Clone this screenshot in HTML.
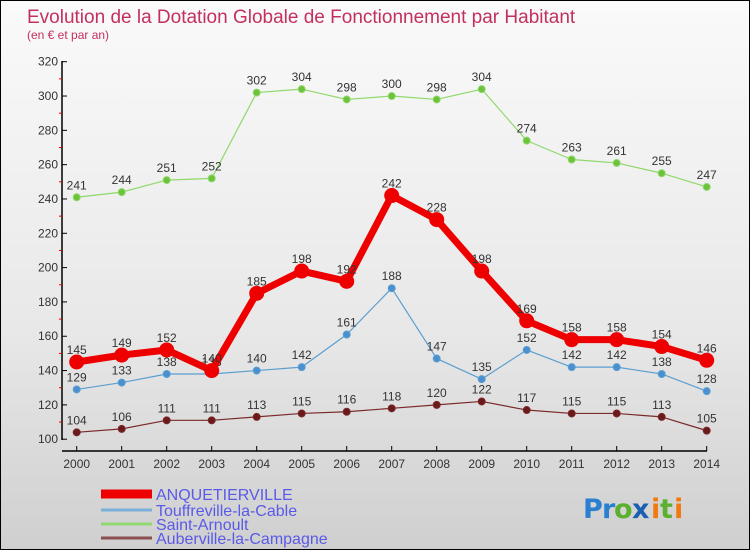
<!DOCTYPE html>
<html><head><meta charset="utf-8"><style>
html,body{margin:0;padding:0}
#c{width:748px;height:548px;border:1px solid #000;background:linear-gradient(#fafafa,#e8e8e8 60%,#cfcfcf);position:relative;overflow:hidden;font-family:"Liberation Sans",sans-serif}
svg{position:absolute;left:0;top:0}
</style></head><body>
<div id="c">
<svg id="s" width="750" height="550">
<text x="26" y="22" font-size="19" fill="#c4305e">Evolution de la Dotation Globale de Fonctionnement par Habitant</text>
<text x="26" y="38" font-size="12" fill="#c4305e">(en € et par an)</text>
<g font-size="27" font-weight="bold" font-family="'DejaVu Sans',sans-serif">
<text x="582" y="517" fill="#2a7fd0">P</text><text x="601" y="517" fill="#2a7fd0">r</text><text x="613" y="517" fill="#5cb030">o</text><text x="631" y="517" fill="#1b5fb0">x</text><text x="650" y="517" fill="#f07a10">i</text><text x="659" y="517" fill="#5cb030">t</text><text x="673" y="517" fill="#f07a10">i</text>
</g>
</svg>
</div>
<script>
const years=["2000","2001","2002","2003","2004","2005","2006","2007","2008","2009","2010","2011","2012","2013","2014"];
const yTicks=[100,120,140,160,180,200,220,240,260,280,300,320];
const anquetierville=[145,149,152,140,185,198,192,242,228,198,169,158,158,154,146];
const touffreville=[129,133,138,138,140,142,161,188,147,135,152,142,142,138,128];
const saintArnoult=[241,244,251,252,302,304,298,300,298,304,274,263,261,255,247];
const auberville=[104,106,111,111,113,115,116,118,120,122,117,115,115,113,105];
const seriesNames=["ANQUETIERVILLE","Touffreville-la-Cable","Saint-Arnoult","Auberville-la-Campagne"];
const svg=document.getElementById('s');const NS="http://www.w3.org/2000/svg";
function xS(i){return 75.7+i*(705.7-75.7)/(years.length-1);}
function yS(v){return 60.7+(320-v)*(438.2-60.7)/220;}
function mk(t,a,p){const e=document.createElementNS(NS,t);for(const k in a)e.setAttribute(k,a[k]);(p||svg).appendChild(e);return e;}
const ax=mk('g',{});


mk('line',{x1:61,y1:60,x2:61,y2:439,stroke:'#000','stroke-width':1.5},ax);
mk('line',{x1:61,y1:450,x2:706,y2:450,stroke:'#000','stroke-width':1.5},ax);
yTicks.forEach(v=>{const y=yS(v);
mk('line',{x1:61,y1:y,x2:66,y2:y,stroke:'#000'},ax);
if(v<320)mk('line',{x1:58,y1:yS(v+10),x2:61,y2:yS(v+10),stroke:'#e00'},ax);
const t=mk('text',{x:57,y:y+4,'font-size':12,fill:'#333','text-anchor':'end'},ax);t.textContent=v;

});
years.forEach((yr,i)=>{const x=xS(i);
mk('line',{x1:x,y1:445,x2:x,y2:450,stroke:'#000'},ax);
const t=mk('text',{x:x,y:467,'font-size':12,fill:'#333','text-anchor':'middle'},ax);t.textContent=yr;

});
function series(data,color,dot,w,r,name,fs){
const g=mk('g',{});


mk('polyline',{points:data.map((v,i)=>xS(i)+','+yS(v)).join(' '),fill:'none',stroke:color,'stroke-width':w,'stroke-linejoin':'round'},g);
data.forEach((v,i)=>{const c=mk('circle',{cx:xS(i),cy:yS(v),r:r,fill:dot,stroke:color,'stroke-width':1},g);


const t=mk('text',{x:xS(i),y:yS(v)-8,'font-size':12,fill:'#333','text-anchor':'middle'},g);t.textContent=v;

});}
series(auberville,'#7a2a2a','#6a1a1a',1.2,3.5,'series-auberville');
series(saintArnoult,'#8fd86a','#6cc23a',1.2,3.5,'series-saint-arnoult');
series(touffreville,'#5a9fd0','#4a90d0',1.2,3.5,'series-touffreville');
series(anquetierville,'#ee0000','#ee0000',7,7,'series-anquetierville');
const cols=['#ee0000','#7ab0d8','#90d870','#8a5050'];const ws=[9,3,3,3];const ly=[493,509,523,537];
seriesNames.forEach((n,i)=>{const g=mk('g',{});


mk('line',{x1:100,y1:ly[i],x2:151,y2:ly[i],stroke:cols[i],'stroke-width':ws[i]},g);
const t=mk('text',{x:155,y:ly[i]+6,'font-size':16,fill:'#5a5ae8'},g);t.textContent=n;});
</script>
</body></html>
